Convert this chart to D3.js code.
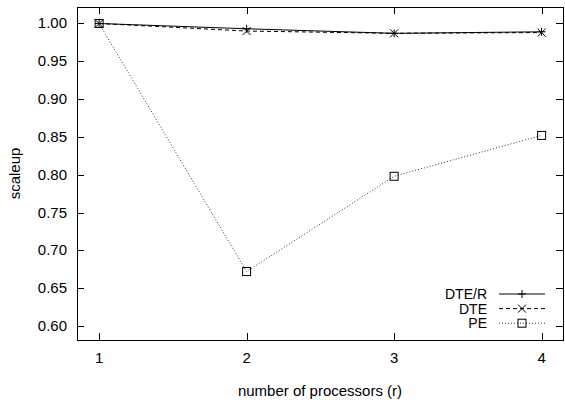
<!DOCTYPE html>
<html>
<head>
<style>
  body { margin: 0; background: #fff; }
  text { font-family: "Liberation Sans", Arial, sans-serif; font-size: 15px; fill: #000; }
  text.legend { font-size: 14px; }
</style>
</head>
<body>
<script src="https://d3js.org/d3.v7.min.js"></script>
<script>
var processors = [1, 2, 3, 4];
var dteR = [1.000, 0.993, 0.987, 0.989];
var dte  = [1.000, 0.990, 0.987, 0.988];
var pe   = [1.000, 0.672, 0.798, 0.852];
var yTicks = [0.60, 0.65, 0.70, 0.75, 0.80, 0.85, 0.90, 0.95, 1.00];

var width = 565, height = 410;
var plotL = 77, plotR = 563, plotT = 7, plotB = 340;

var svg = d3.select("body").append("svg")
    .attr("width", width)
    .attr("height", height);

var x = d3.scaleLinear().domain([0.85, 4.145]).range([plotL, plotR]);
var y = d3.scaleLinear().domain([0.5815, 1.0218]).range([plotB, plotT]);

// ticks on all four sides, pointing inward
var tl = 7;
var g = svg.append("g").attr("stroke", "#000").attr("stroke-width", 1);
yTicks.forEach(function (v) {
    var yy = Math.round(y(v)) + 0.5;
    g.append("line").attr("x1", plotL).attr("x2", plotL + tl).attr("y1", yy).attr("y2", yy);
    g.append("line").attr("x1", plotR).attr("x2", plotR - tl).attr("y1", yy).attr("y2", yy);
});
processors.forEach(function (v) {
    var xx = Math.round(x(v)) + 0.5;
    g.append("line").attr("x1", xx).attr("x2", xx).attr("y1", plotB).attr("y2", plotB - tl);
    g.append("line").attr("x1", xx).attr("x2", xx).attr("y1", plotT).attr("y2", plotT + tl);
});

svg.selectAll(".ylab").data(yTicks).enter().append("text")
    .attr("x", plotL - 10)
    .attr("y", function (d) { return y(d) + 5; })
    .attr("text-anchor", "end")
    .text(function (d) { return d3.format(".2f")(d); });

svg.selectAll(".xlab").data(processors).enter().append("text")
    .attr("x", function (d) { return x(d); })
    .attr("y", plotB + 23)
    .attr("text-anchor", "middle")
    .text(function (d) { return d; });

svg.append("rect")
    .attr("x", plotL + 0.5).attr("y", plotT + 0.5)
    .attr("width", plotR - plotL).attr("height", plotB - plotT)
    .attr("fill", "none").attr("stroke", "#000");

svg.append("text")
    .attr("transform", "translate(20," + ((plotT + plotB) / 2) + ") rotate(-90)")
    .attr("text-anchor", "middle")
    .text("scaleup");

svg.append("text")
    .attr("x", (plotL + plotR) / 2)
    .attr("y", 396)
    .attr("text-anchor", "middle")
    .text("number of processors (r)");

// markers
function plus(sel, cx, cy) {
    sel.append("path").attr("d", "M" + (cx - 4) + "," + cy + "H" + (cx + 4) + "M" + cx + "," + (cy - 4) + "V" + (cy + 4))
        .attr("stroke", "#000").attr("fill", "none");
}
function cross(sel, cx, cy) {
    sel.append("path").attr("d", "M" + (cx - 4) + "," + (cy - 4) + "L" + (cx + 4) + "," + (cy + 4) + "M" + (cx - 4) + "," + (cy + 4) + "L" + (cx + 4) + "," + (cy - 4))
        .attr("stroke", "#000").attr("fill", "none");
}
function square(sel, cx, cy) {
    sel.append("rect").attr("x", cx - 4).attr("y", cy - 4).attr("width", 8).attr("height", 8)
        .attr("stroke", "#000").attr("fill", "none");
}

var series = [
    { name: "DTE/R", values: dteR, dash: null, color: "#000", marker: plus },
    { name: "DTE", values: dte, dash: "4,3", color: "#000", marker: cross },
    { name: "PE", values: pe, dash: "1,2", color: "#333", marker: square }
];

var line = d3.line()
    .x(function (d, i) { return x(processors[i]); })
    .y(function (d) { return y(d); });

series.forEach(function (s) {
    svg.append("path")
        .attr("d", line(s.values))
        .attr("fill", "none")
        .attr("stroke", s.color)
        .attr("stroke-width", 1)
        .attr("stroke-dasharray", s.dash);
    var mg = svg.append("g");
    s.values.forEach(function (v, i) {
        s.marker(mg, x(processors[i]), y(v));
    });
});

// legend
series.forEach(function (s, i) {
    var ly = 294 + i * 14.6;
    svg.append("text")
        .attr("class", "legend")
        .attr("x", 487).attr("y", ly + 5)
        .attr("text-anchor", "end")
        .text(s.name);
    svg.append("line")
        .attr("x1", 499).attr("x2", 545).attr("y1", ly).attr("y2", ly)
        .attr("stroke", s.color).attr("stroke-dasharray", s.dash);
    s.marker(svg, 522, ly);
});
</script>
</body>
</html>
